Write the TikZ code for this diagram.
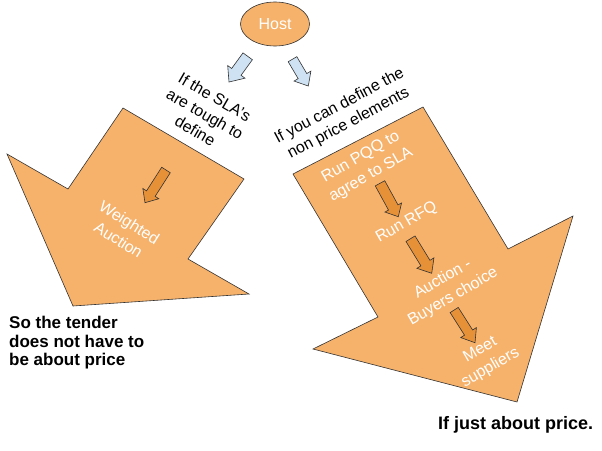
\documentclass[tikz,border=0pt]{standalone}
\usepackage{fontspec}
\setmainfont{Liberation Sans}
\usetikzlibrary{calc,shapes.geometric}
\definecolor{bigorange}{HTML}{F6B26B}
\definecolor{darkorange}{HTML}{E69138}
\definecolor{paleblue}{HTML}{CFE2F3}
\definecolor{edge}{HTML}{333333}
% block arrow: style, tail, tip, shaft half width, head half width, head length
\newcommand\blkarrow[6]{%
  \coordinate (ba-t) at #2;
  \coordinate (ba-p) at #3;
  \coordinate (ba-b) at ($(ba-p)!#6!(ba-t)$);
  \draw[#1] ($(ba-t)!#4!90:(ba-p)$) -- ($(ba-b)!#4!90:(ba-p)$) --
    ($(ba-b)!#5!90:(ba-p)$) -- (ba-p) -- ($(ba-b)!#5!-90:(ba-p)$) --
    ($(ba-b)!#4!-90:(ba-p)$) -- ($(ba-t)!#4!-90:(ba-p)$) -- cycle;}
\tikzset{
  bigarrow/.style={fill=bigorange, draw=edge, line width=0.6pt, line join=miter},
  smallarrow/.style={fill=darkorange, draw=edge, line width=0.6pt, line join=miter},
  bluearrow/.style={fill=paleblue, draw=edge, line width=0.6pt, line join=miter},
  intext/.style={text=white, align=center, font=\fontsize{16}{20.5}\selectfont, inner sep=0pt},
  outtext/.style={text=black, align=center, font=\fontsize{16}{19.5}\selectfont, inner sep=0pt},
  boldtext/.style={text=black, align=left, font=\fontsize{17}{18.5}\selectfont\bfseries, inner sep=0pt},
}
\begin{document}
\begin{tikzpicture}[x=1pt, y=-1pt]
\useasboundingbox (0,0) rectangle (602,450);
\fill[white] (0,0) rectangle (602,450);

% big arrows
\draw[bigarrow] (123,108) -- (244,179) -- (188,259) -- (249,294) -- (73,306) -- (7,154) -- (68,189) -- cycle;
\draw[bigarrow] (423,107) -- (508,249) -- (573,216) -- (517,402) -- (313,349) -- (378,317) -- (293,174) -- cycle;

% host
\node[ellipse, fill=bigorange, draw=edge, line width=0.6pt, minimum width=69pt, minimum height=44pt, inner sep=0pt,
      text=white, font=\fontsize{16}{19}\selectfont] (host) at (275,24) {Host};

% blue arrows
\blkarrow{bluearrow}{(247.7,56.3)}{(229,82)}{5.8pt}{10.7pt}{12.5pt}
\blkarrow{bluearrow}{(292.5,59.2)}{(308.3,86)}{5pt}{9.8pt}{11.5pt}

% small orange arrows
\blkarrow{smallarrow}{(166,170)}{(145,202.7)}{5.1pt}{9.5pt}{10.8pt}
\blkarrow{smallarrow}{(380,183.3)}{(398.3,216.7)}{5.4pt}{9.5pt}{10.5pt}
\blkarrow{smallarrow}{(410.5,238.7)}{(431.7,273.3)}{5.3pt}{10pt}{12pt}
\blkarrow{smallarrow}{(454.2,310)}{(475,342.7)}{4.8pt}{9.3pt}{12pt}

% labels
\node[outtext, rotate=-30] (sla) at (205,114) {If the SLA's\\are tough to\\define};
\node[outtext, rotate=28] (nonprice) at (344,115) {If you can define the\\non price elements};

\node[intext, rotate=-32] (weighted) at (124,231) {Weighted\\Auction};
\node[intext, rotate=30] (pqq) at (366,166) {Run PQQ to\\agree to SLA};
\node[intext, rotate=30] (rfq) at (406.7,222.5) {Run RFQ};
\node[intext, rotate=30] (auction) at (448,288) {Auction -\\Buyers choice};
\node[intext, rotate=30] (meet) at (485.5,359) {Meet\\suppliers};

\node[boldtext, anchor=north west] (tender) at (9,316) {So the tender\\does not have to\\be about price};
\node[boldtext, anchor=base west, font=\fontsize{18}{19}\selectfont\bfseries] (price) at (438,429) {If just about price.};
\end{tikzpicture}
\end{document}
